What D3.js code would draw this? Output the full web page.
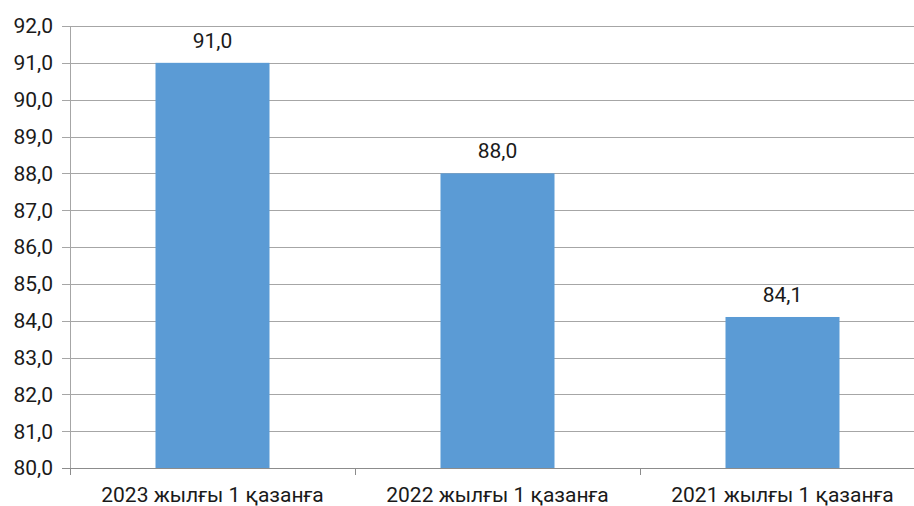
<!DOCTYPE html>
<html>
<head>
<meta charset="utf-8">
<script src="https://cdn.jsdelivr.net/npm/d3@7"></script>
<style>
  html, body { margin: 0; padding: 0; background: #fff; }
  svg { display: block; font-family: Roboto, "Noto Sans", sans-serif; }
</style>
</head>
<body>
<svg id="chart" width="914" height="506"></svg>
<script>
const categories = ["2023 жылғы 1 қазанға", "2022 жылғы 1 қазанға", "2021 жылғы 1 қазанға"];
const values = [91.0, 88.0, 84.1];
const y_ticks = [80, 81, 82, 83, 84, 85, 86, 87, 88, 89, 90, 91, 92];

const fmt = v => v.toFixed(1).replace(".", ",");

const svg = d3.select("#chart");
const plot_left = 70, plot_right = 925, plot_top = 26, plot_bottom = 468;
const font_size = 21;

const x = d3.scaleBand().domain(categories).range([plot_left, plot_right]).padding(0);
const y = d3.scaleLinear().domain([80, 92]).range([plot_bottom, plot_top]);

// gridlines
svg.append("g")
    .selectAll("line")
    .data(y_ticks)
    .join("line")
    .attr("x1", plot_left - 8)
    .attr("x2", plot_right)
    .attr("y1", d => Math.round(y(d)) + 0.5)
    .attr("y2", d => Math.round(y(d)) + 0.5)
    .attr("stroke", d => d === 80 ? "#8c8c8c" : "#a6a6a6")
    .attr("stroke-width", 1);

// y axis line
svg.append("line")
    .attr("x1", plot_left + 0.5).attr("x2", plot_left + 0.5)
    .attr("y1", plot_top).attr("y2", plot_bottom)
    .attr("stroke", "#a6a6a6");

// y labels
svg.append("g")
    .selectAll("text")
    .data(y_ticks)
    .join("text")
    .attr("x", plot_left - 17)
    .attr("y", d => y(d))
    .attr("dy", "0.35em")
    .attr("text-anchor", "end")
    .attr("font-size", font_size)
    .attr("fill", "#1a1a1a")
    .text(d => fmt(d));

// category ticks
const boundaries = categories.map(c => x(c)).concat([plot_right]);
svg.append("g")
    .selectAll("line")
    .data(boundaries)
    .join("line")
    .attr("x1", d => Math.round(d) + 0.5)
    .attr("x2", d => Math.round(d) + 0.5)
    .attr("y1", plot_bottom)
    .attr("y2", plot_bottom + 7)
    .attr("stroke", "#8c8c8c");

// bars
const bar_w = x.bandwidth() * 0.4;
svg.append("g")
    .selectAll("rect")
    .data(values)
    .join("rect")
    .attr("x", (d, i) => x(categories[i]) + x.bandwidth() / 2 - bar_w / 2)
    .attr("width", bar_w)
    .attr("y", d => y(d))
    .attr("height", d => plot_bottom - y(d))
    .attr("fill", "#5b9bd5");

// value labels
svg.append("g")
    .selectAll("text")
    .data(values)
    .join("text")
    .attr("x", (d, i) => x(categories[i]) + x.bandwidth() / 2)
    .attr("y", d => y(d) - 15)
    .attr("text-anchor", "middle")
    .attr("font-size", font_size)
    .attr("fill", "#1a1a1a")
    .text(d => fmt(d));

// category labels
svg.append("g")
    .selectAll("text")
    .data(categories)
    .join("text")
    .attr("x", d => x(d) + x.bandwidth() / 2)
    .attr("y", plot_bottom + 34)
    .attr("text-anchor", "middle")
    .attr("font-size", font_size)
    .attr("fill", "#1a1a1a")
    .text(d => d);
</script>
</body>
</html>
